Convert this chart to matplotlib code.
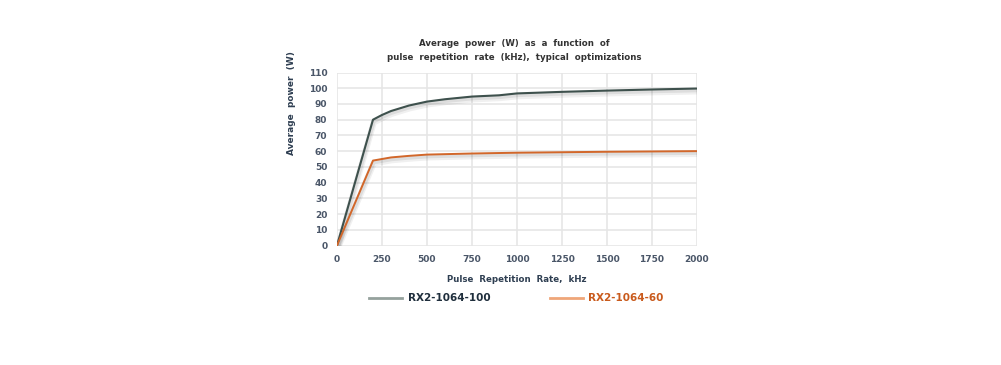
import matplotlib.pyplot as plt
import matplotlib.patheffects as pe

# data
rate_100 = [0, 200, 250, 300, 400, 500, 600, 750, 900, 1000, 1250, 1500, 1750, 2000]
power_100 = [0, 80, 83, 85.5, 89, 91.5, 93, 94.7, 95.5, 96.7, 97.7, 98.5, 99.2, 99.8]

rate_60 = [0, 200, 250, 300, 400, 500, 750, 1000, 1250, 1500, 1750, 2000]
power_60 = [0, 54, 55, 56, 57, 57.8, 58.5, 59, 59.3, 59.6, 59.8, 60]

x_ticks = [0, 250, 500, 750, 1000, 1250, 1500, 1750, 2000]
y_ticks = list(range(0, 111, 10))

dark = '#3e514d'
orange = '#d2672a'
tick_color = '#4a5668'

fig = plt.figure(figsize=(10.01, 3.65), dpi=100)
ax = fig.add_axes([337 / 1001, (365 - 245.5) / 365, 360 / 1001, (245.5 - 72.5) / 365])

# soft shadow under the lines
shadow = [pe.SimpleLineShadow(offset=(0.5, -2), shadow_color='#000000', alpha=0.06, linewidth=4.5),
          pe.SimpleLineShadow(offset=(0.5, -1.2), shadow_color='#000000', alpha=0.08, linewidth=3),
          pe.Normal()]

ax.plot(rate_100, power_100, color=dark, lw=1.5, path_effects=shadow, zorder=3)
ax.plot(rate_60, power_60, color=orange, lw=1.4, path_effects=shadow, zorder=3)

ax.set_xlim(0, 2000)
ax.set_ylim(0, 110)
ax.set_xticks(x_ticks)
ax.set_yticks(y_ticks)
ax.grid(True, color='#e6e6e6', lw=1.2)
ax.set_axisbelow(True)
for s in ax.spines.values():
    s.set_visible(False)
ax.tick_params(length=0, labelsize=6.5, labelcolor=tick_color, pad=7)
for lab in ax.get_xticklabels() + ax.get_yticklabels():
    lab.set_fontweight('bold')

ax.set_xlabel('Pulse  Repetition  Rate,  kHz', fontsize=6.2, fontweight='bold', color='#2f3f52', labelpad=8)
fig.text(292 / 1001, 1 - 103 / 365, 'Average  power  (W)', rotation=90, ha='center', va='center',
         fontsize=6.5, fontweight='bold', color='#2f3f52')

fig.text(514 / 1001, 1 - 43 / 365, 'Average  power  (W)  as  a  function  of', ha='center', va='center',
         fontsize=6.2, fontweight='bold', color='#333333')
fig.text(514 / 1001, 1 - 57 / 365, 'pulse  repetition  rate  (kHz),  typical  optimizations', ha='center',
         va='center', fontsize=6.2, fontweight='bold', color='#333333')

# legend
fig.lines.append(plt.Line2D([369 / 1001, 402 / 1001], [1 - 298 / 365] * 2, color='#95a19d', lw=2,
                            transform=fig.transFigure))
fig.text(408 / 1001, 1 - 298 / 365, 'RX2-1064-100', ha='left', va='center', fontsize=7.5,
         fontweight='bold', color='#1f2e3c')
fig.lines.append(plt.Line2D([550 / 1001, 583 / 1001], [1 - 298 / 365] * 2, color='#efa679', lw=2,
                            transform=fig.transFigure))
fig.text(588 / 1001, 1 - 298 / 365, 'RX2-1064-60', ha='left', va='center', fontsize=7.5,
         fontweight='bold', color='#c95a1c')

fig.savefig('out.png', dpi=100)
